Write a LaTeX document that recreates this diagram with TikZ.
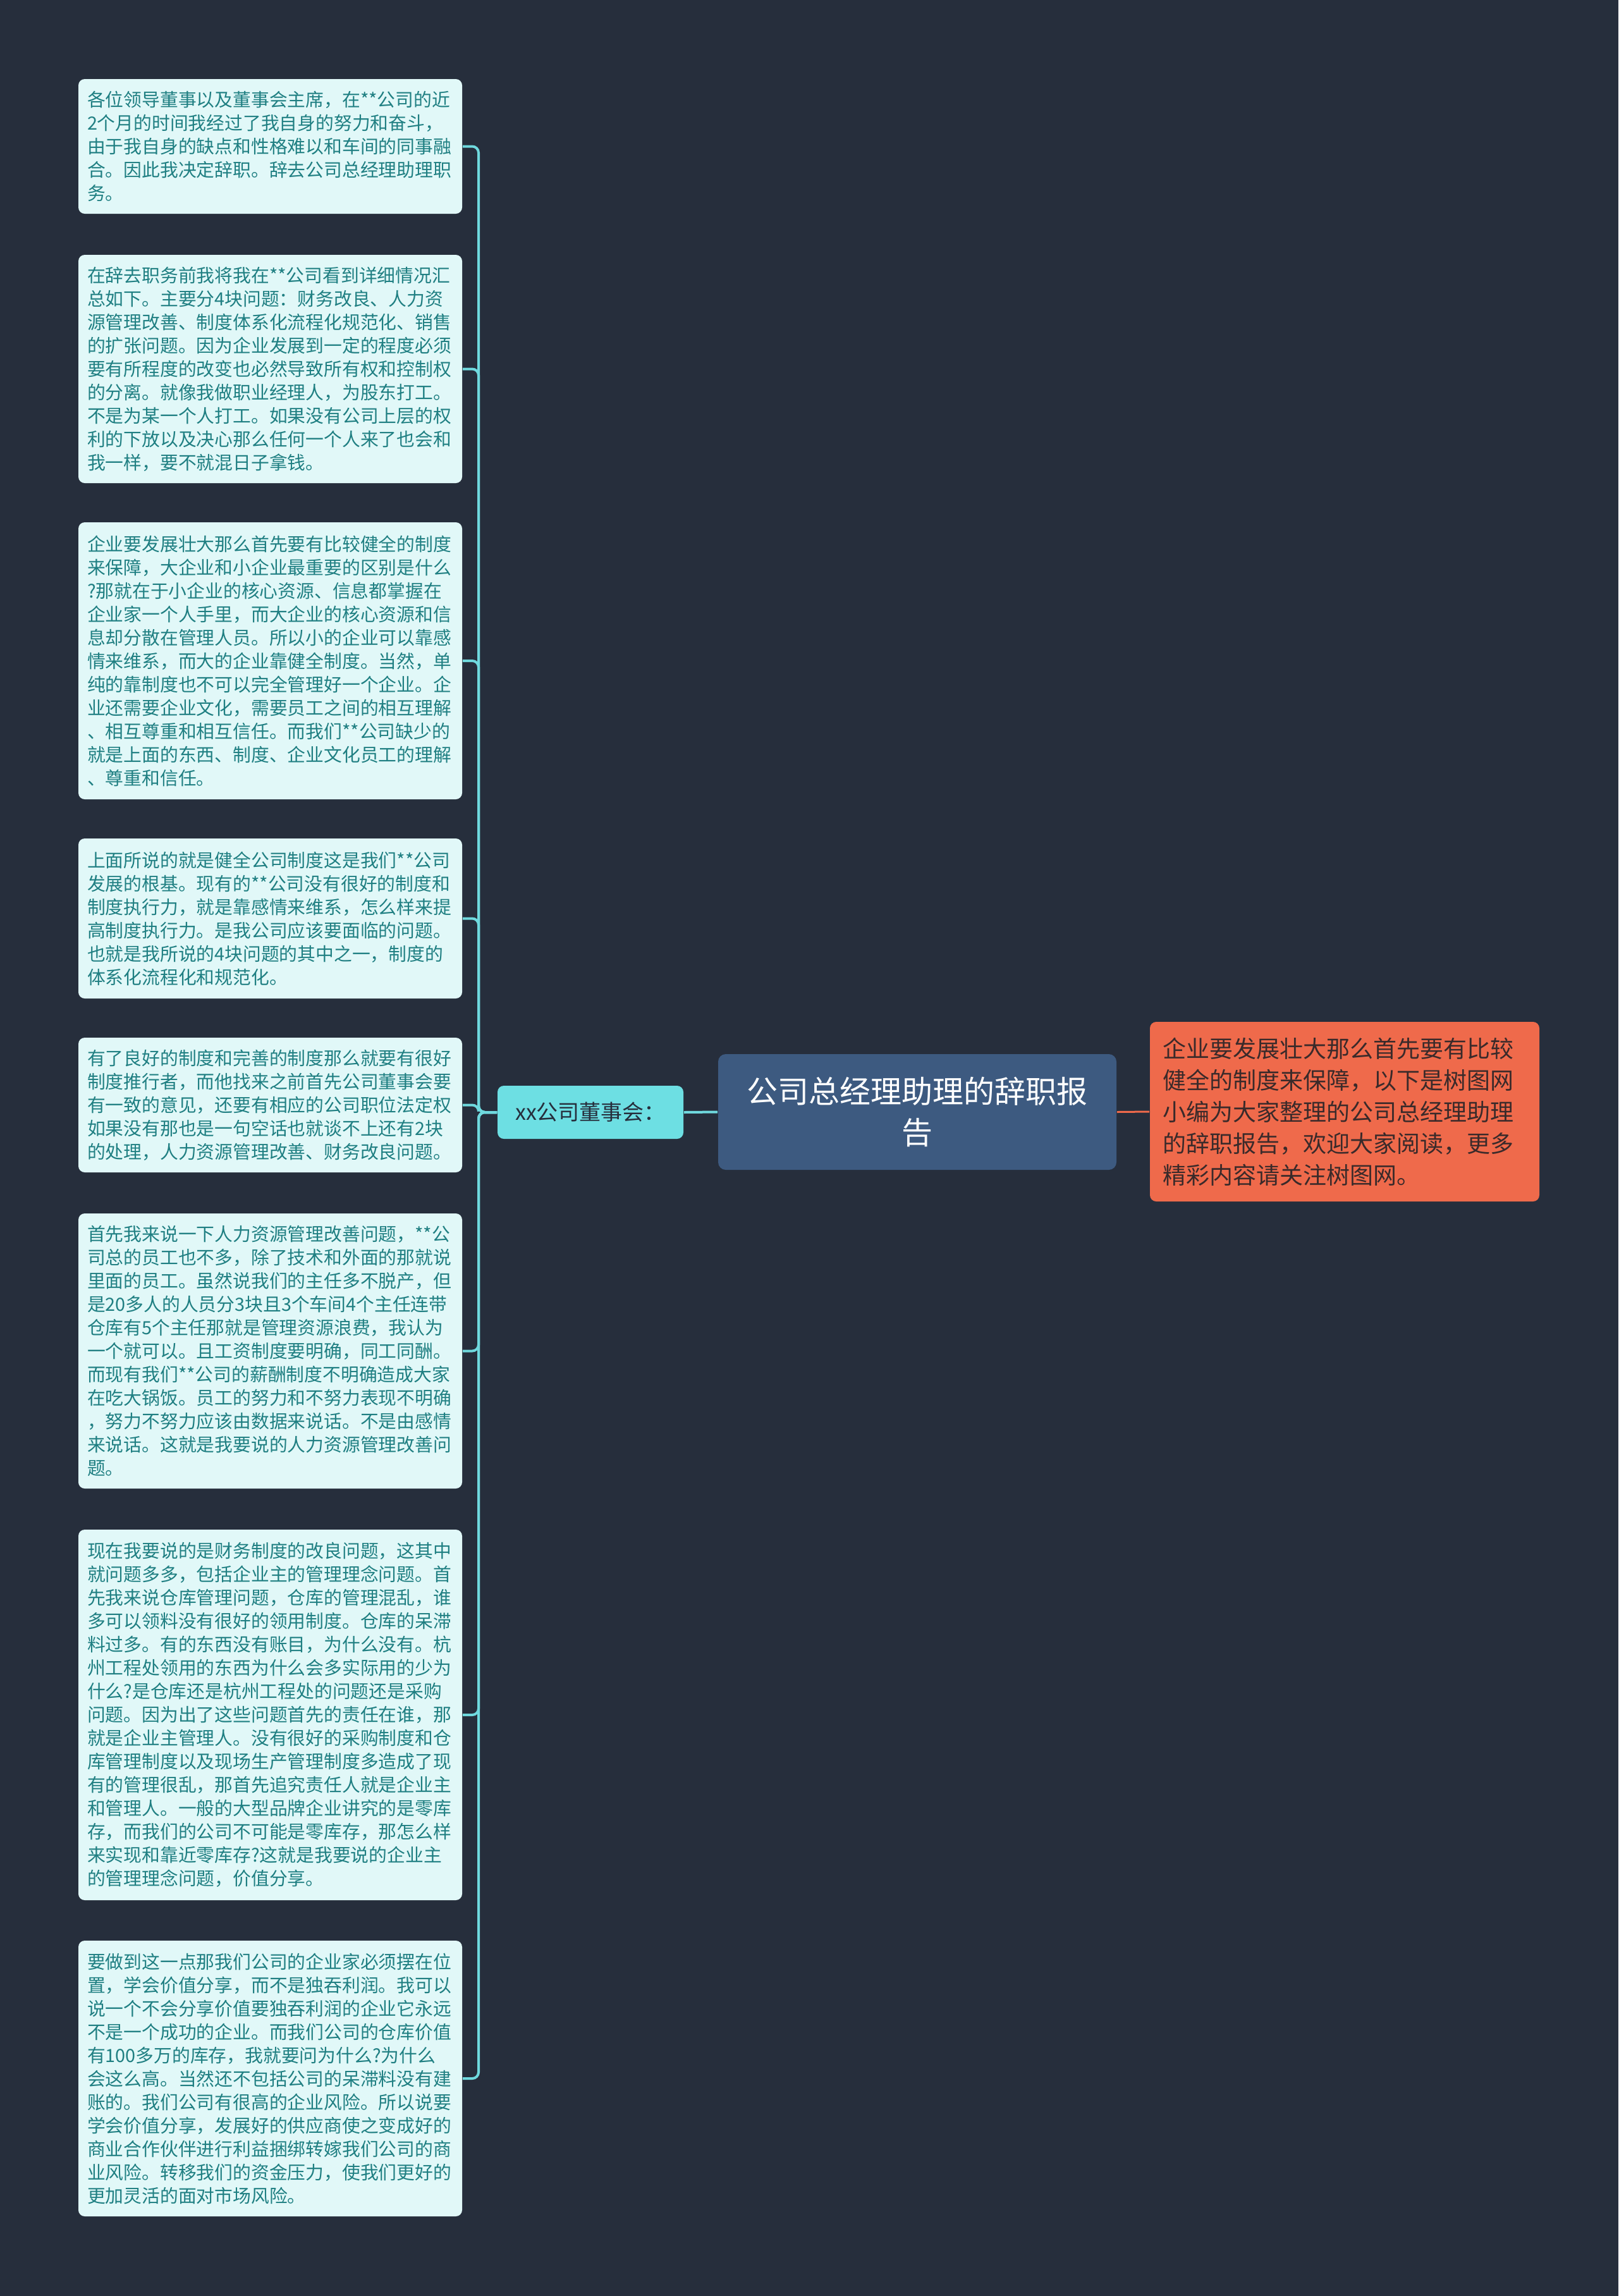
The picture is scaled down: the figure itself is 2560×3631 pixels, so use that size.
\documentclass[tikz,border=0pt]{standalone}
\usepackage{fontspec}
\setmainfont{Noto Sans CJK SC}
\definecolor{bgdark}{HTML}{262E3C}
\definecolor{titlefill}{HTML}{3D5A80}
\definecolor{boardfill}{HTML}{6DDFE3}
\definecolor{notefill}{HTML}{E1F8F8}
\definecolor{notetext}{HTML}{1F7F82}
\definecolor{introfill}{HTML}{EF6A4B}
\definecolor{introtext}{HTML}{3A2A2A}
\definecolor{linkcyan}{HTML}{6FD9DE}
\newcommand\notefont{\fontsize{7.2pt}{9.25pt}\selectfont}
\newcommand\titlefont{\fontsize{12.25pt}{16.25pt}\selectfont}
\newcommand\boardfont{\fontsize{8.5pt}{10pt}\selectfont}
\newcommand\introfont{\fontsize{9.25pt}{12.5pt}\selectfont}
\begin{document}
\begin{tikzpicture}[x=0.25pt,y=-0.25pt,
  note/.style={fill=notefill, text=notetext, rounded corners=2.5pt, font=\notefont,
    text width=144.75pt, inner xsep=3.5pt, inner ysep=3pt, align=left},
  link/.style={draw=linkcyan, line width=1pt, rounded corners=2.5pt}]
\fill[bgdark] (0,0) rectangle (2560,3631);
\node[fill=titlefill, text=white, rounded corners=3pt, font=\titlefont, align=center,
  minimum width=157.5pt, minimum height=45.75pt] (title) at (1451,1758.5) {公司总经理助理的辞职报\\告};
\node[fill=boardfill, text=bgdark, rounded corners=2.5pt, font=\boardfont,
  minimum width=73.5pt, minimum height=21pt] (board) at (934,1759) {xx公司董事会：};
\node[fill=introfill, text=introtext, rounded corners=2.5pt, font=\introfont, align=left,
  text width=144pt, inner xsep=5pt, minimum height=71pt] (intro) at (2127,1758) {企业要发展壮大那么首先要有比较\\健全的制度来保障，以下是树图网\\小编为大家整理的公司总经理助理\\的辞职报告，欢迎大家阅读，更多\\精彩内容请关注树图网。};
\coordinate (fork) at (757,1759);
\node[note, minimum height=53.25pt] (p1) at (427.5,231.5) {各位领导董事以及董事会主席，在**公司的近\\2个月的时间我经过了我自身的努力和奋斗，\\由于我自身的缺点和性格难以和车间的同事融\\合。因此我决定辞职。辞去公司总经理助理职\\务。};
\node[note, minimum height=90.25pt] (p2) at (427.5,583.5) {在辞去职务前我将我在**公司看到详细情况汇\\总如下。主要分4块问题：财务改良、人力资\\源管理改善、制度体系化流程化规范化、销售\\的扩张问题。因为企业发展到一定的程度必须\\要有所程度的改变也必然导致所有权和控制权\\的分离。就像我做职业经理人，为股东打工。\\不是为某一个人打工。如果没有公司上层的权\\利的下放以及决心那么任何一个人来了也会和\\我一样，要不就混日子拿钱。};
\node[note, minimum height=109.5pt] (p3) at (427.5,1045) {企业要发展壮大那么首先要有比较健全的制度\\来保障，大企业和小企业最重要的区别是什么\\?那就在于小企业的核心资源、信息都掌握在\\企业家一个人手里，而大企业的核心资源和信\\息却分散在管理人员。所以小的企业可以靠感\\情来维系，而大的企业靠健全制度。当然，单\\纯的靠制度也不可以完全管理好一个企业。企\\业还需要企业文化，需要员工之间的相互理解\\、相互尊重和相互信任。而我们**公司缺少的\\就是上面的东西、制度、企业文化员工的理解\\、尊重和信任。};
\node[note, minimum height=63.25pt] (p4) at (427.5,1452.5) {上面所说的就是健全公司制度这是我们**公司\\发展的根基。现有的**公司没有很好的制度和\\制度执行力，就是靠感情来维系，怎么样来提\\高制度执行力。是我公司应该要面临的问题。\\也就是我所说的4块问题的其中之一，制度的\\体系化流程化和规范化。};
\node[note, minimum height=53.25pt] (p5) at (427.5,1747.5) {有了良好的制度和完善的制度那么就要有很好\\制度推行者，而他找来之前首先公司董事会要\\有一致的意见，还要有相应的公司职位法定权\\如果没有那也是一句空话也就谈不上还有2块\\的处理，人力资源管理改善、财务改良问题。};
\node[note, minimum height=108.75pt] (p6) at (427.5,2136.5) {首先我来说一下人力资源管理改善问题，**公\\司总的员工也不多，除了技术和外面的那就说\\里面的员工。虽然说我们的主任多不脱产，但\\是20多人的人员分3块且3个车间4个主任连带\\仓库有5个主任那就是管理资源浪费，我认为\\一个就可以。且工资制度要明确，同工同酬。\\而现有我们**公司的薪酬制度不明确造成大家\\在吃大锅饭。员工的努力和不努力表现不明确\\，努力不努力应该由数据来说话。不是由感情\\来说话。这就是我要说的人力资源管理改善问\\题。};
\node[note, minimum height=146.5pt] (p7) at (427.5,2712) {现在我要说的是财务制度的改良问题，这其中\\就问题多多，包括企业主的管理理念问题。首\\先我来说仓库管理问题，仓库的管理混乱，谁\\多可以领料没有很好的领用制度。仓库的呆滞\\料过多。有的东西没有账目，为什么没有。杭\\州工程处领用的东西为什么会多实际用的少为\\什么?是仓库还是杭州工程处的问题还是采购\\问题。因为出了这些问题首先的责任在谁，那\\就是企业主管理人。没有很好的采购制度和仓\\库管理制度以及现场生产管理制度多造成了现\\有的管理很乱，那首先追究责任人就是企业主\\和管理人。一般的大型品牌企业讲究的是零库\\存，而我们的公司不可能是零库存，那怎么样\\来实现和靠近零库存?这就是我要说的企业主\\的管理理念问题，价值分享。};
\node[note, minimum height=109pt] (p8) at (427.5,3287) {要做到这一点那我们公司的企业家必须摆在位\\置，学会价值分享，而不是独吞利润。我可以\\说一个不会分享价值要独吞利润的企业它永远\\不是一个成功的企业。而我们公司的仓库价值\\有100多万的库存，我就要问为什么?为什么\\会这么高。当然还不包括公司的呆滞料没有建\\账的。我们公司有很高的企业风险。所以说要\\学会价值分享，发展好的供应商使之变成好的\\商业合作伙伴进行利益捆绑转嫁我们公司的商\\业风险。转移我们的资金压力，使我们更好的\\更加灵活的面对市场风险。};
\draw[draw=introfill, line width=0.75pt] (title.east) -- (intro.west);
\draw[link] (title.west) -- (board.east);
\draw[link] (board.west) -- (fork) |- (p1.east);
\draw[link] (board.west) -- (fork) |- (p2.east);
\draw[link] (board.west) -- (fork) |- (p3.east);
\draw[link] (board.west) -- (fork) |- (p4.east);
\draw[link] (board.west) -- (fork) |- (p5.east);
\draw[link] (board.west) -- (fork) |- (p6.east);
\draw[link] (board.west) -- (fork) |- (p7.east);
\draw[link] (board.west) -- (fork) |- (p8.east);
\end{tikzpicture}
\end{document}
